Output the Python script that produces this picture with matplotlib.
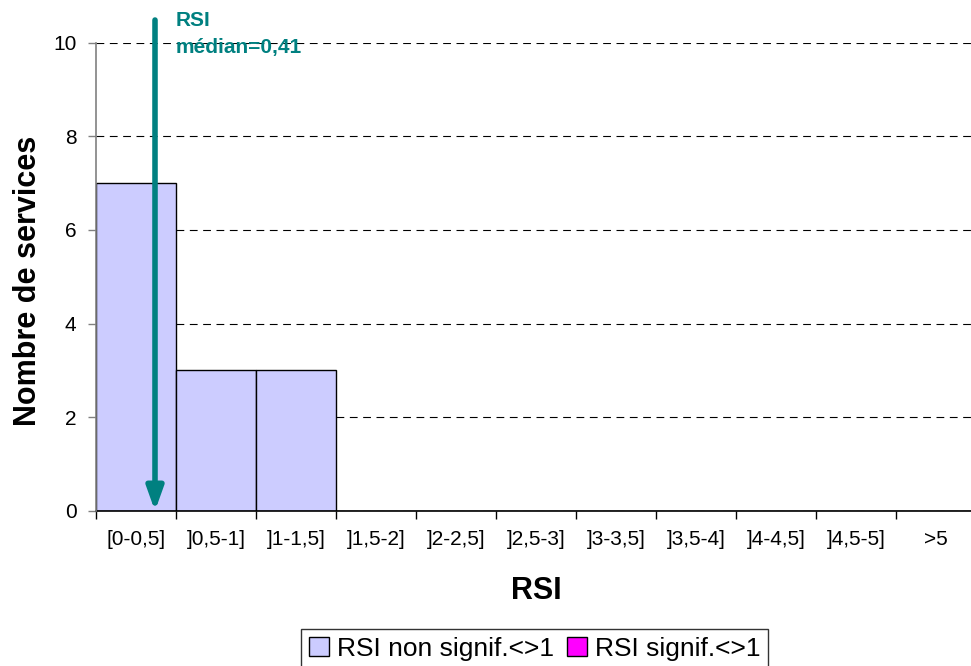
import matplotlib
matplotlib.use("Agg")
import matplotlib.pyplot as plt
from matplotlib.patches import Patch

plt.rcParams['font.family'] = ['Liberation Sans', 'DejaVu Sans']

categories = ["[0-0,5]", "]0,5-1]", "]1-1,5]", "]1,5-2]", "]2-2,5]", "]2,5-3]",
              "]3-3,5]", "]3,5-4]", "]4-4,5]", "]4,5-5]", ">5"]
non_signif = [7, 3, 3, 0, 0, 0, 0, 0, 0, 0, 0]
signif = [0, 0, 0, 0, 0, 0, 0, 0, 0, 0, 0]
median_pos = 0.2375  # category-axis position of the median marker
median_label = "RSI\nmédian=0,41"
series_names = ["RSI non signif.<>1", "RSI signif.<>1"]

W, H = 971, 666
fig = plt.figure(figsize=(W / 100, H / 100), dpi=100)
left, right, top, bottom = 96, 976, 42.5, 511
ax = fig.add_axes([left / W, 1 - bottom / H, (right - left) / W, (bottom - top) / H])
aw, ah = right - left, bottom - top

x = list(range(len(categories)))
c1 = '#CCCCFF'
c2 = '#FF00FF'
ax.bar(x, non_signif, width=1.0, color=c1, edgecolor='black', linewidth=1.0, zorder=2)
ax.bar(x, signif, width=1.0, bottom=non_signif, color=c2, edgecolor='black',
       linewidth=1.0 if any(signif) else 0, zorder=2)

ax.set_xlim(-0.5, len(categories) - 0.5)
ax.set_ylim(0, 10)
ax.set_yticks([0, 2, 4, 6, 8, 10])
ax.set_xticks([i - 0.5 for i in range(len(categories) + 1)], minor=False)
ax.set_xticklabels([])
ax.set_xticks(x, minor=True)
ax.set_xticklabels(categories, minor=True)
ax.tick_params(axis='x', which='minor', length=0, labelsize=15, pad=14)
ax.tick_params(axis='x', which='major', length=6, width=1, color='black')
ax.tick_params(axis='y', length=6, width=1, color='#808080', labelsize=15, pad=8)

ax.set_axisbelow(True)
ax.yaxis.grid(True, color='black', linewidth=0.8, linestyle=(0, (7, 5)))
for s in ['top', 'right']:
    ax.spines[s].set_visible(False)
ax.spines['left'].set_color('#808080')
ax.spines['left'].set_linewidth(1.2)
ax.spines['bottom'].set_color('black')
ax.spines['bottom'].set_linewidth(1.2)
ax.spines['left'].set_zorder(3)

teal = '#008080'
ax.annotate('', xy=(median_pos, 0), xytext=(median_pos, 10.48),
            arrowprops=dict(arrowstyle='-|>,head_length=1.4,head_width=0.5',
                            lw=4, color=teal, shrinkA=0, shrinkB=0),
            annotation_clip=False, zorder=4)
lines = median_label.split("\n")
ax.text(0.5, 10.48, lines[0], color=teal, fontsize=15, fontweight='bold',
        ha='left', va='center', clip_on=False)
ax.text(0.5, 9.9, lines[1], color=teal, fontsize=15, fontweight='bold',
        ha='left', va='center', clip_on=False)

ax.set_ylabel("Nombre de services", fontsize=22, fontweight='bold')
ax.yaxis.set_label_coords(-(left - 43) / aw, 0.491)
ax.set_xlabel("RSI", fontsize=22, fontweight='bold')
ax.xaxis.set_label_coords((536 - left) / aw, -(576 - bottom) / ah)

handles = [Patch(facecolor=c1, edgecolor='black', linewidth=1),
           Patch(facecolor=c2, edgecolor='black', linewidth=1)]
leg = fig.legend(handles, series_names, loc='upper center',
                 bbox_to_anchor=(534.5 / W, 1 - 628.7 / H), ncol=2, fontsize=19,
                 frameon=True, fancybox=False, edgecolor='black',
                 handlelength=0.75, handleheight=0.75, handletextpad=0.3,
                 columnspacing=0.5, borderpad=0.3, borderaxespad=0)
leg.get_frame().set_linewidth(1)

fig.savefig("out.png", dpi=100)
